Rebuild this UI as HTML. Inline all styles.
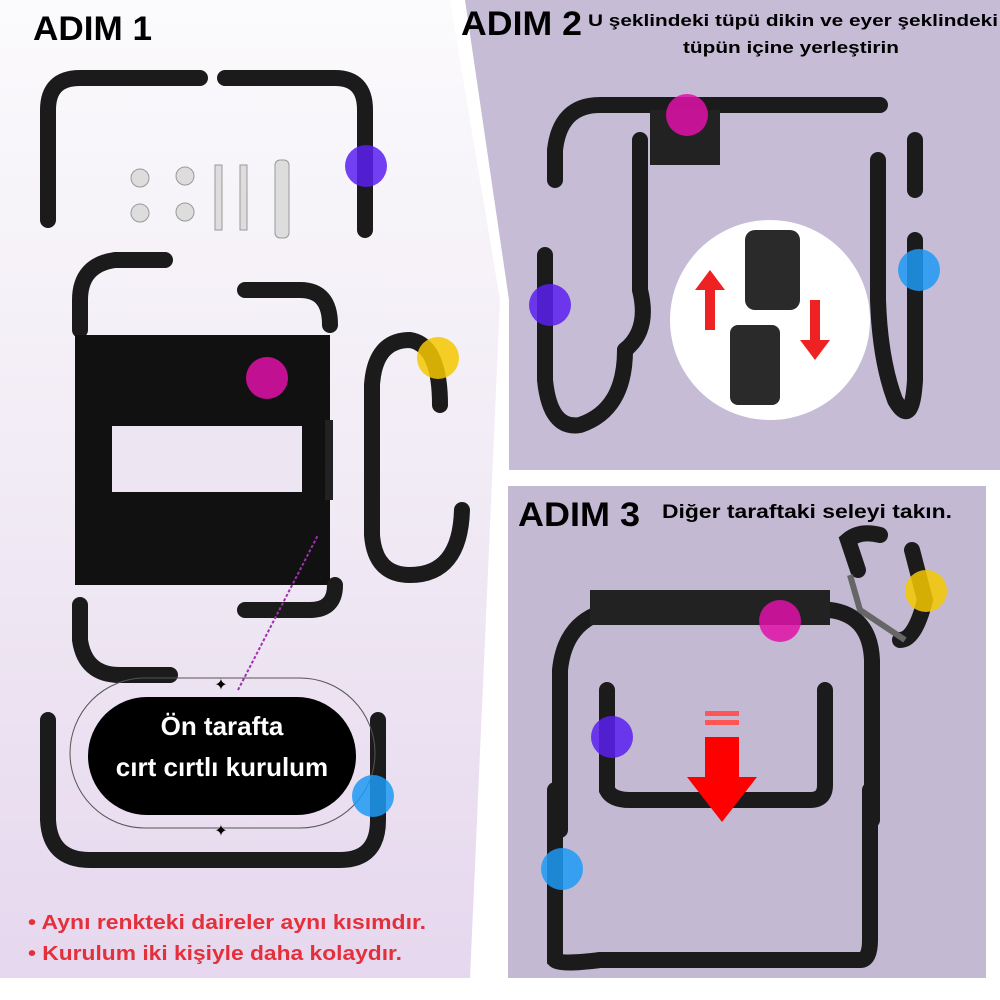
<!DOCTYPE html><html><head><style>body{margin:0;width:1000px;height:1000px;overflow:hidden;background:#fff;font-family:"Liberation Sans",sans-serif}
svg{position:absolute;left:0;top:0}</style></head><body>
<svg width="1000" height="1000" viewBox="0 0 1000 1000">
<defs><linearGradient id="lg" x1="0" y1="0" x2="0" y2="1"><stop offset="0" stop-color="#fbfafc"/><stop offset="0.5" stop-color="#f1ebf5"/><stop offset="1" stop-color="#e6d7ee"/></linearGradient></defs>
<rect width="1000" height="1000" fill="#fff"/>
<polygon points="0,0 450,0 500,300 470,978 0,978" fill="url(#lg)"/>
<polygon points="465,0 1000,0 1000,470 509,470 509,300" fill="#c6bcd6"/>
<rect x="508" y="486" width="478" height="492" fill="#c4b9d2"/>
<g fill="none" stroke="#1b1b1b" stroke-linecap="round" stroke-width="16">
<path d="M48,220 V110 Q48,78 80,78 H200"/><path d="M225,78 H335 Q365,78 365,110 V230"/>
<path d="M80,330 V300 Q80,265 115,260 H165"/><path d="M245,290 H300 Q330,290 330,325"/>
<rect x="75" y="335" width="255" height="250" fill="#111" stroke="none"/>
<path d="M80,605 V640 Q85,675 120,675 H170"/><path d="M245,610 H310 Q335,610 335,585"/>
<path d="M440,405 Q440,345 410,340 Q375,340 372,385 V535 Q375,575 410,575 Q460,575 462,510"/>
<path d="M48,720 V820 Q50,860 90,860 H340 Q378,860 378,820 V720"/>
<path d="M555,180 V150 Q560,105 600,105 H880"/><path d="M640,140 V290 Q650,330 625,350"/><path d="M915,140 V190"/>
<path d="M545,255 V380 Q550,430 580,425 Q625,410 625,350"/>
<path d="M915,240 V380 Q912,430 895,400 Q880,360 878,300 V160"/>
<path d="M560,830 V670 Q565,620 610,610 H830 Q870,615 872,660 V820"/>
<path d="M607,690 V790 Q612,800 630,800 H810 Q825,800 825,785 V690"/>
<path d="M555,790 V960 Q560,965 600,960 H860 Q870,960 870,940 V790"/>
<path d="M858,570 L848,540 Q860,530 880,535" /><path d="M912,550 L925,600 Q915,640 900,640"/>
</g>
<rect x="112" y="426" width="190" height="66" fill="#ede5f2"/>
<rect x="325" y="420" width="8" height="80" fill="#222"/>
<path d="M850,575 L860,610 L905,640" stroke="#666" stroke-width="6" fill="none"/>
<rect x="590" y="590" width="240" height="35" fill="#222"/>
<rect x="650" y="110" width="70" height="55" fill="#222"/>
<circle cx="770" cy="320" r="100" fill="#fff"/>
<rect x="745" y="230" width="55" height="80" rx="10" fill="#2a2a2a"/><rect x="730" y="325" width="50" height="80" rx="8" fill="#2a2a2a"/>
<path d="M710,270 l-15,20 h10 v40 h10 v-40 h10z" fill="#e22"/><path d="M815,360 l-15,-20 h10 v-40 h10 v40 h10z" fill="#e22"/>
<g fill="#ddd" stroke="#999"><circle cx="140" cy="178" r="9"/><circle cx="140" cy="213" r="9"/><circle cx="185" cy="176" r="9"/><circle cx="185" cy="212" r="9"/>
<rect x="215" y="165" width="7" height="65"/><rect x="240" y="165" width="7" height="65"/><rect x="275" y="160" width="14" height="78" rx="5"/></g>
<path d="M238,690 L318,535" stroke="#a030b0" stroke-dasharray="3,2" stroke-width="2"/>
<rect x="70" y="678" width="305" height="150" rx="75" fill="none" stroke="#555" stroke-width="1"/>
<rect x="88" y="697" width="268" height="118" rx="59" fill="#000"/>
<text x="222" y="735" font-size="26" font-weight="bold" fill="#fff" text-anchor="middle">Ön tarafta</text>
<text x="222" y="776" font-size="26" font-weight="bold" fill="#fff" text-anchor="middle">cırt cırtlı kurulum</text>
<text x="221" y="690" font-size="16" text-anchor="middle">✦</text><text x="221" y="836" font-size="16" text-anchor="middle">✦</text>
<g opacity="0.85"><circle cx="366" cy="166" r="21" fill="#5a1ef0"/><circle cx="267" cy="378" r="21" fill="#e010a8"/><circle cx="438" cy="358" r="21" fill="#f5c800"/><circle cx="373" cy="796" r="21" fill="#1e9af5"/>
<circle cx="687" cy="115" r="21" fill="#e010a8"/><circle cx="550" cy="305" r="21" fill="#5a1ef0"/><circle cx="919" cy="270" r="21" fill="#1e9af5"/>
<circle cx="780" cy="621" r="21" fill="#e010a8"/><circle cx="926" cy="591" r="21" fill="#f5c800"/><circle cx="612" cy="737" r="21" fill="#5a1ef0"/><circle cx="562" cy="869" r="21" fill="#1e9af5"/></g>
<path d="M705,737 h34 v40 h18 l-35,45 l-35,-45 h18z" fill="#f00"/><rect x="705" y="711" width="34" height="5" fill="#f55"/><rect x="705" y="720" width="34" height="5" fill="#f55"/>
<g font-weight="bold">
<text x="33" y="40" font-size="34" textLength="119" lengthAdjust="spacingAndGlyphs">ADIM 1</text>
<text x="461" y="35" font-size="34" textLength="121" lengthAdjust="spacingAndGlyphs">ADIM 2</text>
<text x="588" y="26" font-size="17" textLength="410" lengthAdjust="spacingAndGlyphs">U şeklindeki tüpü dikin ve eyer şeklindeki</text>
<text x="683" y="53" font-size="17" textLength="216" lengthAdjust="spacingAndGlyphs">tüpün içine yerleştirin</text>
<text x="518" y="526" font-size="34" textLength="122" lengthAdjust="spacingAndGlyphs">ADIM 3</text>
<text x="662" y="518" font-size="19" textLength="290" lengthAdjust="spacingAndGlyphs">Diğer taraftaki seleyi takın.</text>
<g fill="#e3303a" font-size="20"><text x="28" y="929" textLength="398" lengthAdjust="spacingAndGlyphs">•  Aynı renkteki daireler aynı kısımdır.</text><text x="28" y="960" textLength="374" lengthAdjust="spacingAndGlyphs">•  Kurulum iki kişiyle daha kolaydır.</text></g>
</g>
</svg></body></html>
